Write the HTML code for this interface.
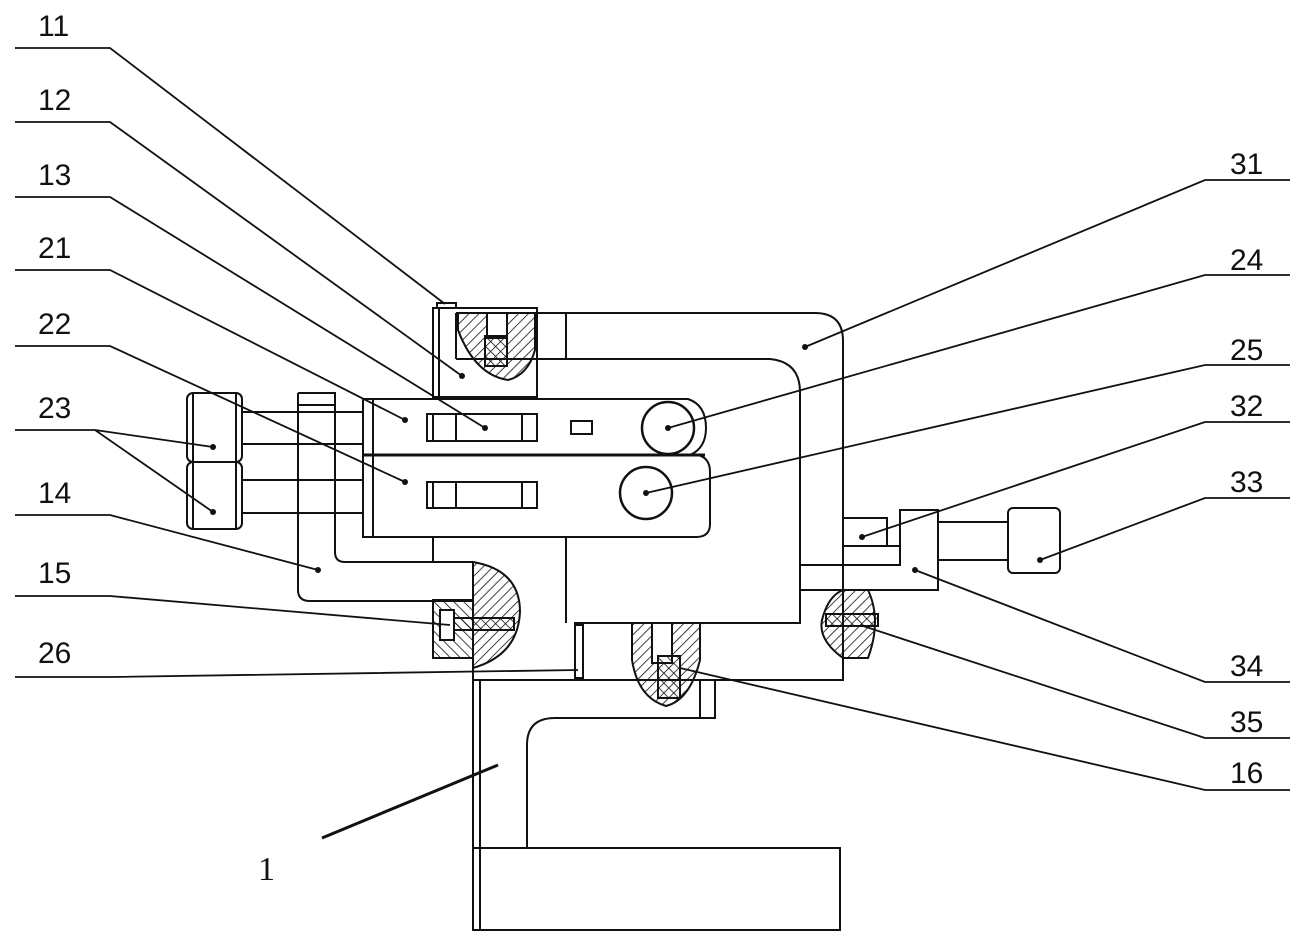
<!DOCTYPE html>
<html><head><style>
html,body{margin:0;padding:0;background:#fff;width:1304px;height:948px;overflow:hidden}
svg{display:block}
text{font-family:"Liberation Sans","Noto Sans CJK SC",sans-serif;font-size:30px;fill:#111}
</style></head><body>
<svg width="1304" height="948" viewBox="0 0 1304 948" xmlns="http://www.w3.org/2000/svg">
<defs>
<pattern id="h" width="7" height="7" patternUnits="userSpaceOnUse" patternTransform="rotate(45)"><line x1="0" y1="0" x2="0" y2="7" stroke="#111" stroke-width="1.6"/></pattern>
<pattern id="h2" width="7" height="7" patternUnits="userSpaceOnUse" patternTransform="rotate(-45)"><line x1="0" y1="0" x2="0" y2="7" stroke="#111" stroke-width="1.6"/></pattern>
</defs>
<g fill="none" stroke="#111" stroke-width="2">
<!-- frame 31 -->
<path d="M456 313 H815 Q843 313 843 341 V680 H715"/>
<path d="M456 359 H770 Q800 362 800 392 V623 H575 V680"/>
<line x1="566" y1="313" x2="566" y2="359"/>
<line x1="537" y1="313" x2="537" y2="397"/>
<!-- part 11 -->
<rect x="433" y="308" width="104" height="89"/>
<line x1="439" y1="308" x2="439" y2="397"/>
<path d="M437 308 V303 H456 V308"/>
<path d="M456 313 V359" />
<path d="M458 313 H535 V350 Q528 375 508 380 Q475 375 458 330 Z" fill="url(#h)"/>
<rect x="487" y="313" width="20" height="25" fill="#fff"/>
<rect x="485" y="336" width="22" height="30" fill="url(#h2)"/>
<!-- sliders -->
<path d="M363 399 H688 Q706 405 706 428 Q706 448 690 455 H363 Z"/>
<path d="M363 455 H698 Q710 458 710 472 V524 Q710 537 696 537 H363 Z"/>
<line x1="363" y1="455" x2="705" y2="455" stroke-width="3"/>
<line x1="373" y1="399" x2="373" y2="537"/>
<rect x="427" y="414" width="110" height="27"/><line x1="456" y1="414" x2="456" y2="441"/><line x1="433" y1="414" x2="433" y2="441"/><line x1="522" y1="414" x2="522" y2="441"/>
<rect x="427" y="482" width="110" height="26"/><line x1="456" y1="482" x2="456" y2="508"/><line x1="433" y1="482" x2="433" y2="508"/><line x1="522" y1="482" x2="522" y2="508"/>
<rect x="571" y="421" width="21" height="13"/>
<circle cx="668" cy="428" r="26" stroke-width="2.5"/>
<circle cx="646" cy="493" r="26" stroke-width="2.5"/>
<!-- bolts 23 -->
<rect x="187" y="393" width="55" height="69" rx="6"/>
<rect x="187" y="462" width="55" height="67" rx="6"/>
<line x1="193" y1="393" x2="193" y2="529"/><line x1="236" y1="393" x2="236" y2="529"/>
<line x1="242" y1="412" x2="363" y2="412"/><line x1="242" y1="444" x2="363" y2="444"/>
<line x1="242" y1="480" x2="363" y2="480"/><line x1="242" y1="513" x2="363" y2="513"/>
<!-- part 14 -->
<path d="M298 393 H335 V552 Q335 562 345 562 H473"/>
<path d="M298 393 V590 Q298 601 310 601 H473"/>
<line x1="298" y1="405" x2="335" y2="405"/>
<line x1="433" y1="537" x2="433" y2="562"/>
<line x1="566" y1="537" x2="566" y2="623"/>
<!-- part 15 -->
<rect x="433" y="600" width="40" height="58" fill="url(#h2)"/>
<path d="M473 562 Q520 570 520 612 Q518 655 473 668 Z" fill="url(#h)"/>
<rect x="440" y="610" width="14" height="30" fill="#fff"/>
<rect x="454" y="618" width="60" height="12" fill="url(#h2)"/>
<!-- body 1 -->
<path d="M473 562 V930 H840 V848 H527 V745 Q527 718 555 718 H715 V680 H473"/>
<line x1="473" y1="848" x2="527" y2="848"/>
<line x1="480" y1="680" x2="480" y2="930"/>
<!-- pin 26 -->
<rect x="575" y="625" width="8" height="53"/>
<!-- part 16 -->
<path d="M632 623 H700 V660 Q690 700 666 706 Q638 698 632 660 Z" fill="url(#h)"/>
<rect x="652" y="623" width="20" height="40" fill="#fff"/>
<rect x="658" y="656" width="22" height="42" fill="url(#h2)"/>
<line x1="700" y1="680" x2="700" y2="718"/>
<!-- right side 32/34/33 -->
<rect x="843" y="518" width="44" height="28"/>
<path d="M800 565 H900 V510 H938 V590 H800"/>
<line x1="843" y1="546" x2="900" y2="546"/>
<line x1="938" y1="522" x2="1008" y2="522"/><line x1="938" y1="560" x2="1008" y2="560"/>
<rect x="1008" y="508" width="52" height="65" rx="5"/>
<!-- 35 -->
<path d="M843 590 H868 Q882 620 868 658 H843 Q818 640 822 620 Q828 596 843 590 Z" fill="url(#h)"/>
<rect x="826" y="614" width="52" height="12" fill="url(#h2)"/>
</g>
<!-- leaders -->
<g stroke="#111" stroke-width="1.8" fill="none">
<path d="M15 48 H110 L445 304"/>
<path d="M15 122 H110 L462 376"/>
<path d="M15 197 H110 L485 428"/>
<path d="M15 270 H110 L405 420"/>
<path d="M15 346 H110 L405 482"/>
<path d="M15 430 H95 L213 447 M95 430 L213 512"/>
<path d="M15 515 H110 L318 570"/>
<path d="M15 596 H110 L450 625"/>
<path d="M15 677 H110 L578 670"/>
<path d="M1290 180 H1205 L805 347"/>
<path d="M1290 275 H1205 L668 428"/>
<path d="M1290 365 H1205 L646 493"/>
<path d="M1290 422 H1205 L862 537"/>
<path d="M1290 498 H1205 L1040 560"/>
<path d="M1290 682 H1205 L915 570"/>
<path d="M1290 738 H1205 L860 625"/>
<path d="M1290 790 H1205 L680 668"/>
<path d="M322 838 L498 765" stroke-width="3"/>
</g>
<g fill="#111">
<circle cx="485" cy="428" r="3"/><circle cx="462" cy="376" r="3"/><circle cx="405" cy="420" r="3"/><circle cx="405" cy="482" r="3"/>
<circle cx="213" cy="447" r="3"/><circle cx="213" cy="512" r="3"/><circle cx="318" cy="570" r="3"/><circle cx="805" cy="347" r="3"/>
<circle cx="668" cy="428" r="3"/><circle cx="646" cy="493" r="3"/><circle cx="862" cy="537" r="3"/><circle cx="1040" cy="560" r="3"/><circle cx="915" cy="570" r="3"/>
</g>
<g>
<text x="38" y="36">11</text><text x="38" y="110">12</text><text x="38" y="185">13</text><text x="38" y="258">21</text><text x="38" y="334">22</text><text x="38" y="418">23</text><text x="38" y="503">14</text><text x="38" y="583">15</text><text x="38" y="663">26</text>
<text x="1230" y="174">31</text><text x="1230" y="270">24</text><text x="1230" y="360">25</text><text x="1230" y="416">32</text><text x="1230" y="492">33</text><text x="1230" y="676">34</text><text x="1230" y="732">35</text><text x="1230" y="783">16</text>
<text x="258" y="880" style="font-family:'Liberation Serif',serif;font-size:34px">1</text>
</g>
</svg>
</body></html>
